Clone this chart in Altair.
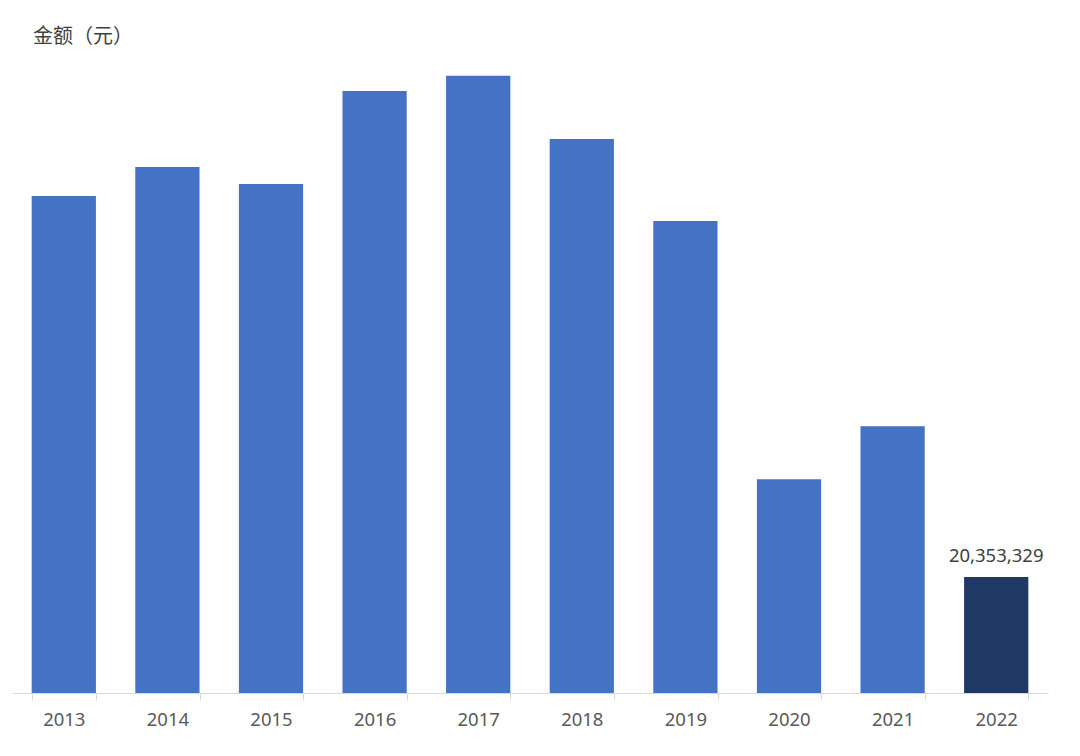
import altair as alt
import pandas as pd

years = ["2013", "2014", "2015", "2016", "2017", "2018", "2019", "2020", "2021", "2022"]
values = [87200000, 92300000, 89300000, 105600000, 108300000, 97200000, 82800000, 37500000, 46800000, 20353329]
label_texts = ["", "", "", "", "", "", "", "", "", "20,353,329"]
highlight = ["n", "n", "n", "n", "n", "n", "n", "n", "n", "y"]

df = pd.DataFrame({"year": years, "value": values, "label": label_texts, "hl": highlight})

x = alt.X("year:N", title=None, sort=years,
          scale=alt.Scale(paddingInner=0.38, paddingOuter=0.19, round=False),
          axis=alt.Axis(labelAngle=0, labelFontSize=18.5, labelColor="#595959",
                        labelFont="Noto Sans", domainColor="#d9d9d9", tickColor="#d9d9d9",
                        tickSize=7, tickBand="extent", labelPadding=10, domainWidth=1))
y = alt.Y("value:Q", title=None, scale=alt.Scale(domain=[0, 110000000], nice=False),
          axis=None)

bars = alt.Chart(df).mark_bar().encode(
    x=x, y=y,
    color=alt.Color("hl:N", scale=alt.Scale(domain=["n", "y"], range=["#4472C4", "#203864"]), legend=None),
)
text = alt.Chart(df).mark_text(baseline="bottom", dy=-11, fontSize=18.5, color="#404040", font="Noto Sans").encode(
    x=x, y=y, text="label:N"
)

chart = (bars + text).properties(
    width=1036, height=627,
    padding={"left": 4, "top": 58, "right": 16, "bottom": 40},
    autosize=alt.AutoSizeParams(type="none"),
    title=alt.TitleParams("金额（元）", anchor="start", frame="group", dx=21, dy=2, offset=1,
                          fontSize=20, font="Noto Sans CJK SC", fontWeight="normal", color="#404040"),
).configure_view(stroke=None)

chart.save("out.html", embed_options={"renderer": "svg", "actions": False})
